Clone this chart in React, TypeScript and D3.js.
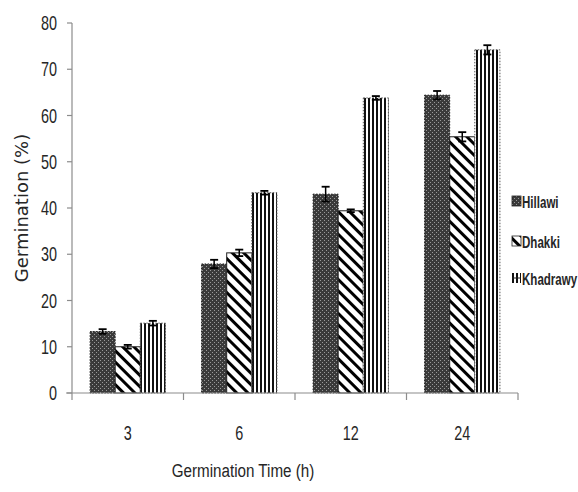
import { useEffect, useRef } from 'react';
import * as d3 from 'd3';

const categories = ['3', '6', '12', '24'];
const seriesNames = ['Hillawi', 'Dhakki', 'Khadrawy'];
const hillawi = [13.3, 27.9, 43.0, 64.4];
const dhakki = [10.0, 30.3, 39.4, 55.4];
const khadrawy = [15.1, 43.3, 63.8, 74.2];
const hillawiErr = [0.5, 0.9, 1.6, 0.9];
const dhakkiErr = [0.4, 0.7, 0.3, 1.0];
const khadrawyErr = [0.5, 0.4, 0.4, 1.0];
const yTicks = [0, 10, 20, 30, 40, 50, 60, 70, 80];

export default function App() {
    const svgRef = useRef<SVGSVGElement>(null);

    useEffect(() => {
        const svg = d3.select(svgRef.current);
        svg.selectAll('*').remove();

        const width = 578;
        const height = 492;
        const margin = { left: 72, right: 60, top: 23, bottom: 99 };
        const font = "'Liberation Sans', Arial, sans-serif";

        svg.attr('width', width).attr('height', height);

        // narrow text helper (mimics a condensed font)
        const narrow = (x: number, yy: number, txt: string, size: number, anchor: string, sx = 0.75, weight = 'normal') =>
            svg.append('text')
                .attr('transform', `translate(${x},${yy}) scale(${sx},1)`)
                .attr('text-anchor', anchor)
                .style('font-family', font)
                .style('font-size', `${size}px`)
                .style('font-weight', weight)
                .style('fill', '#262626')
                .text(txt);

        // Patterns
        const defs = svg.append('defs');

        const p1 = defs.append('pattern').attr('id', 'pHill')
            .attr('patternUnits', 'userSpaceOnUse').attr('width', 4).attr('height', 4);
        p1.append('rect').attr('width', 4).attr('height', 4).attr('fill', '#3a3a3a');
        p1.append('rect').attr('x', 0).attr('y', 0).attr('width', 1).attr('height', 1).attr('fill', '#9a9a9a');
        p1.append('rect').attr('x', 2).attr('y', 2).attr('width', 1).attr('height', 1).attr('fill', '#9a9a9a');

        const p2 = defs.append('pattern').attr('id', 'pDhak')
            .attr('patternUnits', 'userSpaceOnUse').attr('width', 8).attr('height', 8)
            .attr('patternTransform', 'rotate(-45)');
        p2.append('rect').attr('width', 8).attr('height', 8).attr('fill', '#fff');
        p2.append('rect').attr('x', 0).attr('y', 0).attr('width', 3).attr('height', 8).attr('fill', '#000');

        const p3 = defs.append('pattern').attr('id', 'pKhad')
            .attr('patternUnits', 'userSpaceOnUse').attr('width', 4).attr('height', 4);
        p3.append('rect').attr('width', 4).attr('height', 4).attr('fill', '#fff');
        p3.append('rect').attr('x', 0).attr('width', 2).attr('height', 4).attr('fill', '#111');

        const fills = ['url(#pHill)', 'url(#pDhak)', 'url(#pKhad)'];
        const values = [hillawi, dhakki, khadrawy];
        const errors = [hillawiErr, dhakkiErr, khadrawyErr];

        const x0 = d3.scaleBand().domain(categories)
            .range([margin.left, width - margin.right]);
        const x1 = d3.scaleBand().domain(seriesNames)
            .range([0, x0.bandwidth()]).paddingOuter(0.72).paddingInner(0);
        const y = d3.scaleLinear().domain([0, 80])
            .range([height - margin.bottom, margin.top]);

        const axisColor = '#8c8c8c';

        // Y axis
        svg.append('line')
            .attr('x1', margin.left).attr('x2', margin.left)
            .attr('y1', y(0)).attr('y2', y(80))
            .attr('stroke', axisColor).attr('stroke-width', 1.2);
        yTicks.forEach((t) => {
            svg.append('line')
                .attr('x1', margin.left - 5).attr('x2', margin.left)
                .attr('y1', y(t)).attr('y2', y(t))
                .attr('stroke', axisColor).attr('stroke-width', 1.2);
            narrow(57, y(t) + 7, String(t), 20, 'end', 0.72);
        });

        // Bars
        seriesNames.forEach((s, si) => {
            categories.forEach((c, ci) => {
                const v = values[si][ci];
                const bx = x0(c)! + x1(s)!;
                const bw = x1.bandwidth();
                svg.append('rect')
                    .attr('x', bx).attr('y', y(v))
                    .attr('width', bw).attr('height', y(0) - y(v))
                    .attr('fill', fills[si])
                    .attr('stroke', si === 2 ? '#555' : '#222')
                    .attr('stroke-width', 1)
                    .attr('stroke-dasharray', si === 1 ? null : '1.5,1.5');

                // error bar
                const e = errors[si][ci];
                const cx = bx + bw / 2;
                svg.append('line')
                    .attr('x1', cx).attr('x2', cx)
                    .attr('y1', y(v - e)).attr('y2', y(v + e))
                    .attr('stroke', '#000').attr('stroke-width', 1.5);
                [v - e, v + e].forEach((ev) => {
                    svg.append('line')
                        .attr('x1', cx - 4).attr('x2', cx + 4)
                        .attr('y1', y(ev)).attr('y2', y(ev))
                        .attr('stroke', '#000').attr('stroke-width', 1.8);
                });
            });
        });

        // X axis
        svg.append('line')
            .attr('x1', margin.left - 6).attr('x2', width - margin.right)
            .attr('y1', y(0)).attr('y2', y(0))
            .attr('stroke', axisColor).attr('stroke-width', 1.2);
        const boundaries = categories.map((c) => x0(c)!).concat([x0.range()[1]]);
        boundaries.forEach((bx) => {
            svg.append('line')
                .attr('x1', bx).attr('x2', bx)
                .attr('y1', y(0)).attr('y2', y(0) + 7)
                .attr('stroke', axisColor).attr('stroke-width', 1.2);
        });
        categories.forEach((c) => {
            narrow(x0(c)! + x0.bandwidth() / 2, y(0) + 47, c, 20, 'middle', 0.72);
        });

        // Axis titles
        narrow(243, 477, 'Germination Time (h)', 19, 'middle', 0.8);
        svg.append('text')
            .attr('transform', `translate(28, ${(y(0) + y(80)) / 2}) rotate(-90)`)
            .attr('text-anchor', 'middle')
            .style('font-family', "'DejaVu Sans', sans-serif")
            .style('font-size', '18px')
            .style('fill', '#262626')
            .text('Germination (%)');

        // Legend
        const legendY = [202, 242, 279];
        seriesNames.forEach((s, si) => {
            svg.append('rect')
                .attr('x', 512).attr('y', legendY[si] - 6)
                .attr('width', 9).attr('height', 10)
                .attr('fill', fills[si])
                .attr('stroke', si === 2 ? 'none' : '#222').attr('stroke-width', 0.8);
            if (si === 2) {
                svg.append('line')
                    .attr('x1', 512).attr('x2', 521)
                    .attr('y1', legendY[si] - 1).attr('y2', legendY[si] - 1)
                    .attr('stroke', '#222').attr('stroke-width', 1);
            }
            narrow(522, legendY[si] + 6, s, 17, 'start', 0.68, 'bold');
        });
    }, []);

    return (
        <div style={{ position: 'absolute', left: 0, top: 0 }}>
            <svg ref={svgRef}></svg>
        </div>
    );
}
